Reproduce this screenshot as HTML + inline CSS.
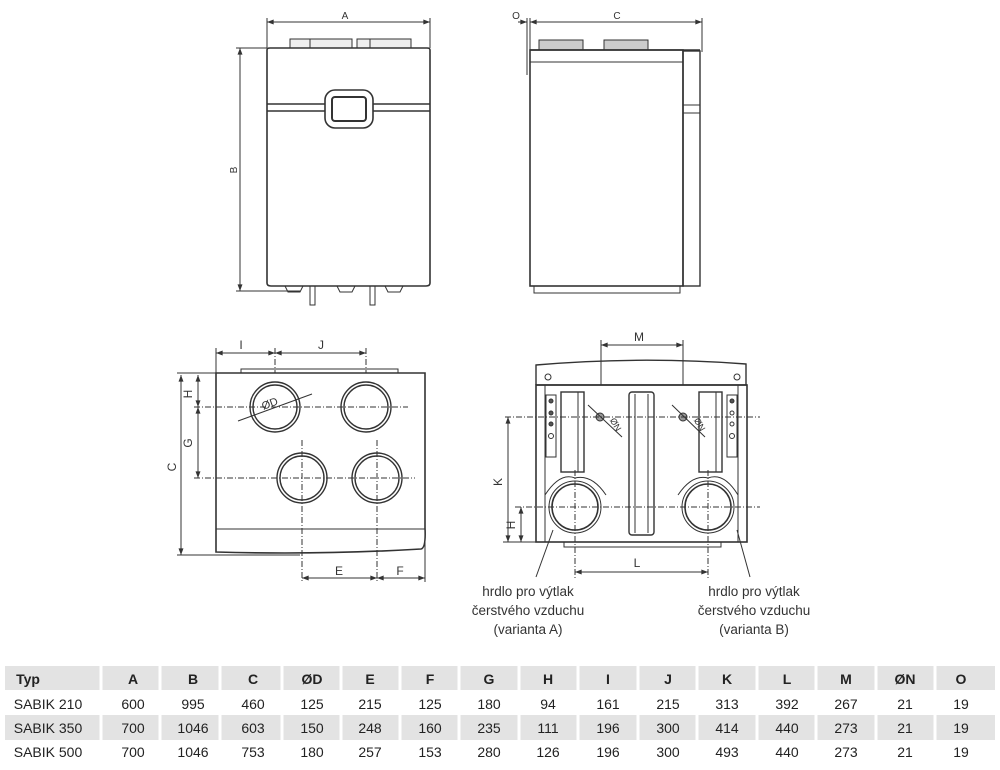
<!DOCTYPE html>
<html><head><meta charset="utf-8"><style>
html,body{margin:0;padding:0;background:#fff;}
svg{display:block;font-family:"Liberation Sans",sans-serif;}
</style></head><body>
<svg width="1000" height="770" viewBox="0 0 1000 770" xmlns="http://www.w3.org/2000/svg">
<defs>
<marker id="a" viewBox="0 0 8 6" refX="8" refY="3" markerWidth="7" markerHeight="5" orient="auto-start-reverse"><path d="M0,0 L8,3 L0,6z" fill="#333"/></marker>
</defs>
<g fill="none" stroke="#333" stroke-width="1">
<!-- FRONT VIEW -->
<line x1="267" y1="22" x2="430" y2="22" marker-start="url(#a)" marker-end="url(#a)"/>
<line x1="267" y1="18" x2="267" y2="48"/><line x1="430" y1="18" x2="430" y2="48"/>
<line x1="240" y1="48" x2="240" y2="291" marker-start="url(#a)" marker-end="url(#a)"/>
<line x1="236" y1="48" x2="267" y2="48"/><line x1="236" y1="291" x2="300" y2="291"/>
<rect x="290" y="39" width="62" height="9" fill="#eee"/><rect x="357" y="39" width="54" height="9" fill="#eee"/>
<line x1="310" y1="39" x2="310" y2="48"/><line x1="370" y1="39" x2="370" y2="48"/>
<path d="M267,50 Q267,48 270,48 H427 Q430,48 430,50 V283 Q430,286 426,286 H271 Q267,286 267,283 Z" stroke-width="1.6"/>
<line x1="267" y1="104" x2="430" y2="104" stroke-width="1.4"/>
<line x1="267" y1="111" x2="430" y2="111" stroke-width="1.4"/>
<rect x="325" y="90" width="48" height="38" rx="10" fill="#fff" stroke-width="1.6"/>
<rect x="332" y="97" width="34" height="24" rx="3" stroke-width="2"/>
<path d="M285,286 l3,6 h12 l3,-6 M337,286 l3,6 h12 l3,-6 M385,286 l3,6 h12 l3,-6"/>
<rect x="310" y="286" width="5" height="19"/><rect x="370" y="286" width="5" height="19"/>
<!-- SIDE VIEW -->
<line x1="530" y1="22" x2="702" y2="22" marker-end="url(#a)" marker-start="url(#a)"/>
<line x1="518" y1="22" x2="527" y2="22" marker-end="url(#a)"/>
<line x1="527" y1="18" x2="527" y2="75"/><line x1="530" y1="18" x2="530" y2="50"/><line x1="702" y1="18" x2="702" y2="52"/>
<rect x="539" y="40" width="44" height="10" fill="#ccc"/><rect x="604" y="40" width="44" height="10" fill="#ccc"/>
<line x1="530" y1="50" x2="700" y2="50" stroke-width="1.4"/>
<rect x="530" y="50" width="153" height="236" stroke-width="1.6"/>
<line x1="530" y1="62" x2="683" y2="62"/>
<rect x="683" y="51" width="17" height="235" stroke-width="1.4"/>
<line x1="683" y1="105" x2="700" y2="105"/><line x1="683" y1="113" x2="700" y2="113"/>
<rect x="534" y="286" width="146" height="7"/>
<!-- BOTTOM LEFT VIEW -->
<line x1="216" y1="353" x2="275" y2="353" marker-start="url(#a)" marker-end="url(#a)"/>
<line x1="275" y1="353" x2="366" y2="353" marker-start="url(#a)" marker-end="url(#a)"/>
<line x1="216" y1="348" x2="216" y2="373"/>
<line x1="275" y1="348" x2="275" y2="448" stroke-dasharray="6,2,1,2"/>
<line x1="366" y1="348" x2="366" y2="448" stroke-dasharray="6,2,1,2"/>
<path d="M241,373 V369 H398 V373"/>
<path d="M216,373 H425 V528 Q426,548 421,549 Q320,555 216,552 Z" stroke-width="1.6" fill="#fff"/>
<line x1="216" y1="529" x2="425" y2="529"/>
<g stroke-width="1.4"><circle cx="275" cy="407" r="25"/><circle cx="275" cy="407" r="22"/>
<circle cx="366" cy="407" r="25"/><circle cx="366" cy="407" r="22"/>
<circle cx="302" cy="478" r="25"/><circle cx="302" cy="478" r="22"/>
<circle cx="377" cy="478" r="25"/><circle cx="377" cy="478" r="22"/></g>
<line x1="238" y1="421" x2="312" y2="394"/>
<line x1="194" y1="407" x2="408" y2="407" stroke-dasharray="6,2,1,2"/>
<line x1="194" y1="478" x2="415" y2="478" stroke-dasharray="6,2,1,2"/>
<line x1="302" y1="440" x2="302" y2="582" stroke-dasharray="6,2,1,2"/>
<line x1="377" y1="440" x2="377" y2="582" stroke-dasharray="6,2,1,2"/>
<line x1="425" y1="540" x2="425" y2="582"/>
<line x1="181" y1="375" x2="181" y2="555" marker-start="url(#a)" marker-end="url(#a)"/>
<line x1="177" y1="373" x2="216" y2="373"/><line x1="177" y1="555" x2="300" y2="555"/>
<line x1="198" y1="375" x2="198" y2="407" marker-start="url(#a)" marker-end="url(#a)"/>
<line x1="198" y1="407" x2="198" y2="478" marker-start="url(#a)" marker-end="url(#a)"/>
<line x1="302" y1="578" x2="377" y2="578" marker-start="url(#a)" marker-end="url(#a)"/>
<line x1="377" y1="578" x2="425" y2="578" marker-start="url(#a)" marker-end="url(#a)"/>
<!-- BOTTOM RIGHT VIEW -->
<line x1="601" y1="345" x2="683" y2="345" marker-start="url(#a)" marker-end="url(#a)"/>
<line x1="601" y1="340" x2="601" y2="425"/><line x1="683" y1="340" x2="683" y2="425"/>
<path d="M536,385 V365 Q640,356 746,364 V385" stroke-width="1.4"/>
<rect x="536" y="385" width="211" height="157" stroke-width="1.6" fill="#fff"/>
<line x1="536" y1="385" x2="747" y2="385" stroke-width="1.4"/>
<line x1="545" y1="385" x2="545" y2="542"/><line x1="738" y1="385" x2="738" y2="542"/>
<circle cx="548" cy="377" r="3"/><circle cx="737" cy="377" r="3"/>
<rect x="546" y="395" width="10" height="62"/><rect x="727" y="395" width="10" height="62"/>
<circle cx="551" cy="401" r="2" fill="#555"/><circle cx="551" cy="413" r="2" fill="#555"/><circle cx="551" cy="424" r="2" fill="#555"/><circle cx="551" cy="436" r="2.5"/>
<circle cx="732" cy="401" r="2" fill="#555"/><circle cx="732" cy="413" r="2"/><circle cx="732" cy="424" r="2"/><circle cx="732" cy="436" r="2.5"/>
<rect x="561" y="392" width="23" height="80" stroke-width="1.4"/><line x1="578" y1="392" x2="578" y2="472"/>
<rect x="699" y="392" width="23" height="80" stroke-width="1.4"/><line x1="716" y1="392" x2="716" y2="472"/>
<rect x="629" y="392" width="25" height="143" rx="3" stroke-width="1.4"/><line x1="635" y1="394" x2="635" y2="533"/><line x1="648" y1="394" x2="648" y2="533"/>
<path d="M545,495 Q560,472 575,478 Q592,474 606,495 M678,495 Q692,474 708,478 Q724,472 738,495"/>
<circle cx="575" cy="507" r="26" stroke-width="1"/><circle cx="575" cy="507" r="23" stroke-width="1.6"/>
<circle cx="708" cy="507" r="26" stroke-width="1"/><circle cx="708" cy="507" r="23" stroke-width="1.6"/>
<circle cx="600" cy="417" r="4" fill="#999"/><circle cx="683" cy="417" r="4" fill="#999"/>
<line x1="588" y1="405" x2="622" y2="437"/><line x1="672" y1="405" x2="705" y2="437"/>
<line x1="505" y1="417" x2="760" y2="417" stroke-dasharray="6,2,1,2"/>
<line x1="515" y1="507" x2="760" y2="507" stroke-dasharray="6,2,1,2"/>
<line x1="575" y1="470" x2="575" y2="578" stroke-dasharray="6,2,1,2"/>
<line x1="708" y1="470" x2="708" y2="578" stroke-dasharray="6,2,1,2"/>
<rect x="564" y="542" width="157" height="5"/>
<line x1="508" y1="417" x2="508" y2="542" marker-start="url(#a)" marker-end="url(#a)"/>
<line x1="503" y1="542" x2="536" y2="542"/>
<line x1="521" y1="507" x2="521" y2="542" marker-start="url(#a)" marker-end="url(#a)"/>
<line x1="575" y1="572" x2="708" y2="572" marker-start="url(#a)" marker-end="url(#a)"/>
<line x1="553" y1="530" x2="536" y2="577"/><line x1="737" y1="530" x2="750" y2="577"/>
</g>
<g font-size="10" fill="#333" text-anchor="middle">
<text x="345" y="19">A</text>
<text x="237" y="170" transform="rotate(-90 237 170)">B</text>
<text x="516" y="19">O</text><text x="617" y="19">C</text>
<text x="241" y="349" font-size="12">I</text><text x="321" y="349" font-size="12">J</text>
<text x="192" y="394" font-size="12" transform="rotate(-90 192 394)">H</text>
<text x="192" y="443" font-size="12" transform="rotate(-90 192 443)">G</text>
<text x="176" y="467" font-size="12" transform="rotate(-90 176 467)">C</text>
<text x="271" y="407" font-size="11" transform="rotate(-20 271 407)">ØD</text>
<text x="339" y="575" font-size="12">E</text><text x="400" y="575" font-size="12">F</text>
<text x="639" y="341" font-size="12">M</text>
<text x="502" y="482" font-size="12" transform="rotate(-90 502 482)">K</text>
<text x="515" y="525" font-size="12" transform="rotate(-90 515 525)">H</text>
<text x="637" y="567" font-size="12">L</text>
<text x="613" y="426" font-size="9" transform="rotate(60 613 426)">ØN</text>
<text x="697" y="426" font-size="9" transform="rotate(60 697 426)">ØN</text>
<g font-size="13.5"><text x="528" y="596">hrdlo pro výtlak</text><text x="528" y="615">čerstvého vzduchu</text><text x="528" y="634">(varianta A)</text>
<text x="754" y="596">hrdlo pro výtlak</text><text x="754" y="615">čerstvého vzduchu</text><text x="754" y="634">(varianta B)</text></g>
</g>
<!-- TABLE -->
<g fill="#e3e3e3">
<rect x="5" y="666" width="990" height="24"/><rect x="5" y="715" width="990" height="25"/>
</g>
<g stroke="#fff" stroke-width="3">
<line x1="101" y1="660" x2="101" y2="765"/><line x1="160" y1="660" x2="160" y2="765"/><line x1="220" y1="660" x2="220" y2="765"/><line x1="282" y1="660" x2="282" y2="765"/><line x1="341" y1="660" x2="341" y2="765"/><line x1="400" y1="660" x2="400" y2="765"/><line x1="459" y1="660" x2="459" y2="765"/><line x1="519" y1="660" x2="519" y2="765"/><line x1="578" y1="660" x2="578" y2="765"/><line x1="638" y1="660" x2="638" y2="765"/><line x1="697" y1="660" x2="697" y2="765"/><line x1="757" y1="660" x2="757" y2="765"/><line x1="816" y1="660" x2="816" y2="765"/><line x1="876" y1="660" x2="876" y2="765"/><line x1="935" y1="660" x2="935" y2="765"/>
</g>
<g font-size="14" fill="#222" text-anchor="middle">
<g font-weight="bold"><text x="28" y="684">Typ</text><text x="133" y="684">A</text><text x="193" y="684">B</text><text x="253" y="684">C</text><text x="312" y="684">ØD</text><text x="370" y="684">E</text><text x="430" y="684">F</text><text x="489" y="684">G</text><text x="548" y="684">H</text><text x="608" y="684">I</text><text x="668" y="684">J</text><text x="727" y="684">K</text><text x="787" y="684">L</text><text x="846" y="684">M</text><text x="905" y="684">ØN</text><text x="961" y="684">O</text></g>
<g><text x="48" y="709">SABIK 210</text><text x="133" y="709">600</text><text x="193" y="709">995</text><text x="253" y="709">460</text><text x="312" y="709">125</text><text x="370" y="709">215</text><text x="430" y="709">125</text><text x="489" y="709">180</text><text x="548" y="709">94</text><text x="608" y="709">161</text><text x="668" y="709">215</text><text x="727" y="709">313</text><text x="787" y="709">392</text><text x="846" y="709">267</text><text x="905" y="709">21</text><text x="961" y="709">19</text></g>
<g><text x="48" y="733">SABIK 350</text><text x="133" y="733">700</text><text x="193" y="733">1046</text><text x="253" y="733">603</text><text x="312" y="733">150</text><text x="370" y="733">248</text><text x="430" y="733">160</text><text x="489" y="733">235</text><text x="548" y="733">111</text><text x="608" y="733">196</text><text x="668" y="733">300</text><text x="727" y="733">414</text><text x="787" y="733">440</text><text x="846" y="733">273</text><text x="905" y="733">21</text><text x="961" y="733">19</text></g>
<g><text x="48" y="757">SABIK 500</text><text x="133" y="757">700</text><text x="193" y="757">1046</text><text x="253" y="757">753</text><text x="312" y="757">180</text><text x="370" y="757">257</text><text x="430" y="757">153</text><text x="489" y="757">280</text><text x="548" y="757">126</text><text x="608" y="757">196</text><text x="668" y="757">300</text><text x="727" y="757">493</text><text x="787" y="757">440</text><text x="846" y="757">273</text><text x="905" y="757">21</text><text x="961" y="757">19</text></g>
</g>
</svg>
</body></html>
